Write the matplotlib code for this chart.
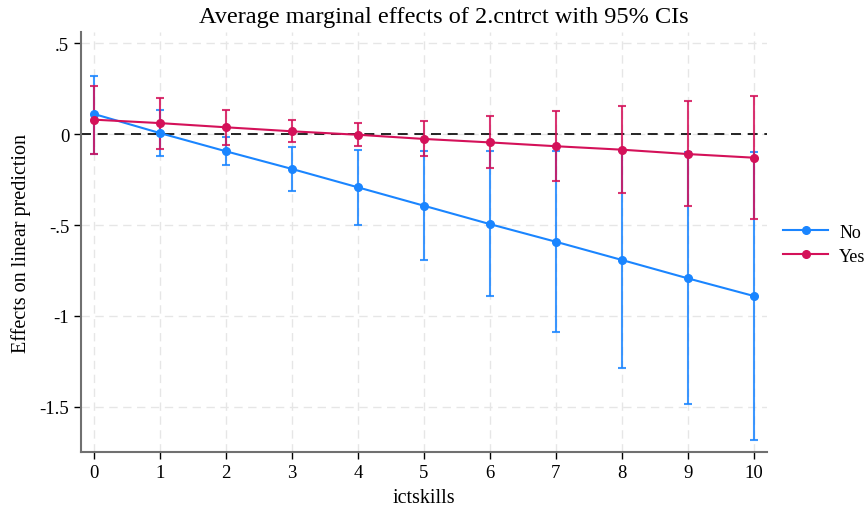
import numpy as np
import matplotlib
matplotlib.use("Agg")
import matplotlib.pyplot as plt

# ---- data ----
ictskills = [0, 1, 2, 3, 4, 5, 6, 7, 8, 9, 10]

no_est = [0.11, 0.005, -0.095, -0.192, -0.293, -0.394, -0.495, -0.592, -0.692, -0.793, -0.89]
no_lo = [-0.11, -0.119, -0.17, -0.315, -0.50, -0.694, -0.888, -1.086, -1.286, -1.482, -1.68]
no_hi = [0.32, 0.134, -0.018, -0.073, -0.086, -0.092, -0.095, -0.092, -0.094, -0.096, -0.097]

yes_est = [0.079, 0.06, 0.037, 0.015, -0.004, -0.027, -0.046, -0.067, -0.086, -0.11, -0.13]
yes_lo = [-0.11, -0.082, -0.06, -0.046, -0.064, -0.123, -0.189, -0.256, -0.326, -0.396, -0.467]
yes_hi = [0.265, 0.198, 0.132, 0.079, 0.06, 0.073, 0.097, 0.124, 0.152, 0.18, 0.21]

y_ticks = [0.5, 0, -0.5, -1, -1.5]
y_labels = [".5", "0", "-.5", "-1", "-1.5"]

blue = "#1a85ff"
red = "#d41159"

plt.rcParams['font.family'] = ['Liberation Serif', 'DejaVu Serif']

fig = plt.figure(figsize=(8.66, 5.10), dpi=100)
ax = fig.add_axes([0.0935, 0.112, 0.792, 0.823])

ax.axhline(0, color="black", lw=1.2, ls=(0, (6, 4)), zorder=1)

def draw_series(est, lo, hi, color, label):
    est = np.array(est)
    err = [est - np.array(lo), np.array(hi) - est]
    ax.errorbar(ictskills, est, yerr=err, fmt="none", ecolor=color, elinewidth=1.5,
                capsize=3, capthick=1.5, alpha=0.85, zorder=2)
    ax.plot(ictskills, est, color=color, lw=1.5, marker="o", ms=5.5, label=label, zorder=3)

draw_series(no_est, no_lo, no_hi, blue, "No")
draw_series(yes_est, yes_lo, yes_hi, red, "Yes")

ax.set_xlim(-0.2, 10.2)
ax.set_ylim(-1.747, 0.56)
ax.set_xticks(ictskills)
ax.set_yticks(y_ticks)
ax.set_yticklabels(y_labels)
ax.tick_params(labelsize=13.5, length=5, width=1, color="black")

ax.grid(True, color="#e6e6e6", ls=(0, (6, 4)), lw=1)
ax.set_axisbelow(True)
for side in ["top", "right"]:
    ax.spines[side].set_visible(False)
for side in ["left", "bottom"]:
    ax.spines[side].set_color("#707070")
    ax.spines[side].set_linewidth(1.5)

fig.suptitle("Average marginal effects of 2.cntrct with 95% CIs", fontsize=17.5,
             x=0.512, y=0.987)
ax.set_xlabel("ictskills", fontsize=14.5, labelpad=5)
ax.set_ylabel("Effects on linear prediction", fontsize=14.5, labelpad=6)

ax.legend(loc="center left", bbox_to_anchor=(1.0, 0.495), frameon=False, fontsize=13,
          handlelength=2.5, handletextpad=0.6, labelspacing=0.4)

fig.savefig("out.png", dpi=100)
